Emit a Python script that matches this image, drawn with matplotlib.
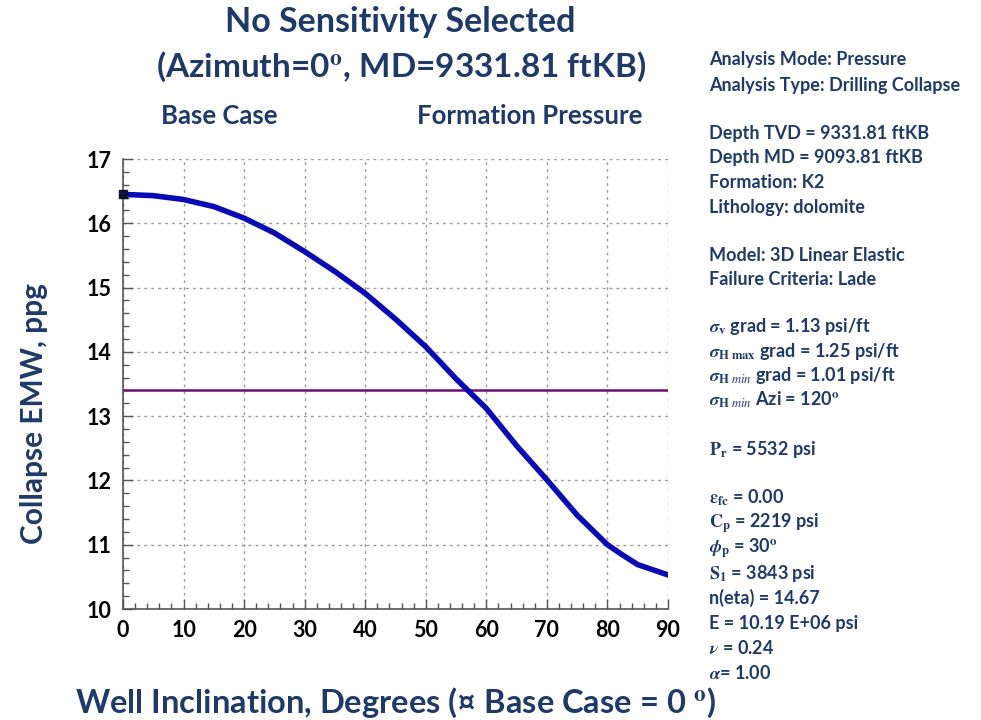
import matplotlib
matplotlib.use("Agg")
import matplotlib.pyplot as plt
from matplotlib.ticker import MultipleLocator

# Collapse EMW vs well inclination (base case)
inclination = [0, 5, 10, 15, 20, 25, 30, 35, 40, 45, 50, 55, 60, 65, 70, 75, 80,
               82.5, 85, 87.5, 90]
collapse_emw = [16.45, 16.43, 16.37, 16.26, 16.08, 15.85, 15.56, 15.25, 14.91, 14.51,
                14.08, 13.58, 13.12, 12.54, 12.01, 11.46, 11.00,
                10.84, 10.69, 10.61, 10.53]
formation_pressure = 13.41

x_ticks = [0, 10, 20, 30, 40, 50, 60, 70, 80, 90]
y_ticks = [10, 11, 12, 13, 14, 15, 16, 17]

info_lines = [
    (60, "Analysis Mode: Pressure"),
    (85, "Analysis Type: Drilling Collapse"),
    (133, "Depth TVD = 9331.81 ftKB"),
    (158, "Depth MD = 9093.81 ftKB"),
    (182, "Formation: K2"),
    (207, "Lithology: dolomite"),
    (255, "Model: 3D Linear Elastic"),
    (280, "Failure Criteria: Lade"),
    (327, r"$\boldsymbol{\sigma}_{\mathbf{v}}$ grad = 1.13 psi/ft"),
    (352, r"$\boldsymbol{\sigma}_{\mathbf{H\ max}}$ grad = 1.25 psi/ft"),
    (376, r"$\boldsymbol{\sigma}_{\mathbf{H}\ \mathit{min}}$ grad = 1.01 psi/ft"),
    (400, r"$\boldsymbol{\sigma}_{\mathbf{H}\ \mathit{min}}$ Azi = 120$^{\mathbf{o}}$"),
    (450, r"$\mathbf{P_r}$ = 5532 psi"),
    (498, r"$\boldsymbol{\varepsilon}_{\mathbf{fc}}$ = 0.00"),
    (523, r"$\mathbf{C_p}$ = 2219 psi"),
    (548, r"$\boldsymbol{\phi}_{\mathbf{p}}$ = 30$^{\mathbf{o}}$"),
    (573, r"$\mathbf{S_1}$ = 3843 psi"),
    (598, "n(eta) = 14.67"),
    (623, "E = 10.19 E+06 psi"),
    (648, r"$\boldsymbol{\nu}$ = 0.24"),
    (673, r"$\boldsymbol{\alpha}$= 1.00"),
]

navy = "#1f3a68"
fam = ["Lato", "DejaVu Sans"]
plt.rcParams["mathtext.fontset"] = "stix"

W, H = 981, 720
fig = plt.figure(figsize=(W / 100, H / 100), dpi=100)
ax = fig.add_axes([123 / W, 1 - 609 / H, (668 - 123) / W, (609 - 159) / H])

ax.plot(inclination, collapse_emw, color="#0a0ab4", lw=4, solid_capstyle="round",
        solid_joinstyle="round", zorder=3)
ax.plot([inclination[0]], [collapse_emw[0]], marker="s", ms=6, color="#111133", zorder=4, clip_on=False)
ax.axhline(formation_pressure, color="#6a1070", lw=1.8, zorder=2)

ax.set_xlim(0, 90)
ax.set_ylim(10, 17)
ax.set_xticks(x_ticks)
ax.set_yticks(y_ticks)
ax.xaxis.set_minor_locator(MultipleLocator(2))
ax.yaxis.set_minor_locator(MultipleLocator(0.2))
ax.tick_params(which="both", direction="in", color="#555555", width=1)
ax.tick_params(which="major", length=7, labelsize=15.5, pad=8)
ax.tick_params(which="minor", length=4)
for lab in ax.get_xticklabels() + ax.get_yticklabels():
    lab.set_fontfamily(fam)
    lab.set_fontweight("bold")
ax.grid(True, which="major", linestyle=(0, (2, 3)), color="#9a9a9a", lw=1)
for side in ("top", "right"):
    ax.spines[side].set_visible(False)
for side in ("left", "bottom"):
    ax.spines[side].set_color("#555555")
    ax.spines[side].set_linewidth(1.2)

fig.text(34 / W, 1 - 413 / H, "Collapse EMW, ppg", rotation=90, ha="center", va="center",
         fontsize=21.5, fontweight="bold", color=navy, family=fam)

fig.text(400 / W, 1 - 22 / H, "No Sensitivity Selected", ha="center", va="center",
         fontsize=24.5, fontweight="bold", color=navy, family=fam)
fig.text(401 / W, 1 - 67 / H, r"(Azimuth=0$^{\mathbf{o}}$, MD=9331.81 ftKB)", ha="center",
         va="center", fontsize=24, fontweight="bold", color=navy, family=fam)
fig.text(219 / W, 1 - 116 / H, "Base Case", ha="center", va="center",
         fontsize=18.5, fontweight="bold", color=navy, family=fam)
fig.text(530 / W, 1 - 116 / H, "Formation Pressure", ha="center", va="center",
         fontsize=18.5, fontweight="bold", color=navy, family=fam)
fig.text(396 / W, 1 - 703 / H, "Well Inclination, Degrees (\u00a4 Base Case = 0 $^{\\mathbf{o}}$)",
         ha="center", va="center", fontsize=23.5, fontweight="bold", color=navy, family=fam)

for ypix, txt in info_lines:
    fig.text(709 / W, 1 - ypix / H, txt, ha="left", va="center", fontsize=13,
             fontweight="bold", color=navy, family=fam)

fig.savefig("out.png", dpi=100, facecolor="white")
